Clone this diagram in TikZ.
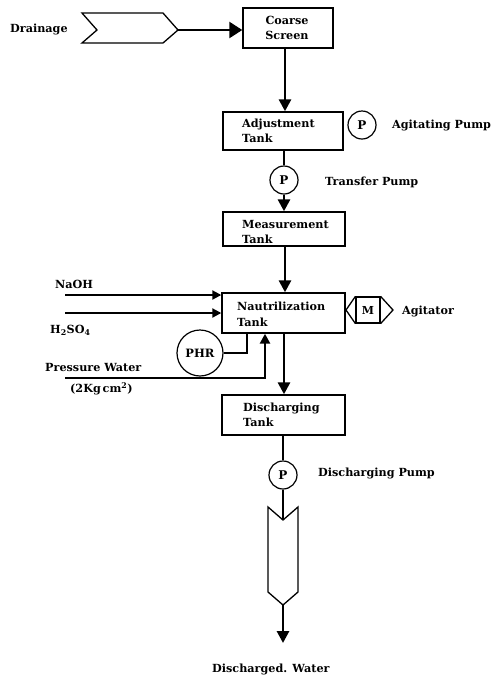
\documentclass[tikz,border=0pt]{standalone}
\usepackage{fontspec}
\setmainfont{DejaVu Serif}
\usetikzlibrary{arrows.meta}
\begin{document}
\begin{tikzpicture}[x=1pt,y=-1pt,
  lbl/.style={inner sep=0pt, align=left, font=\fontsize{11.2}{15.5}\selectfont\bfseries},
  tank/.style={draw, line width=1.4pt, inner sep=0pt},
  pump/.style={draw, circle, line width=1.2pt, minimum size=28pt, inner sep=0pt, font=\fontsize{12}{14}\selectfont\bfseries},
  mainflow/.style={line width=2.8pt, -{Triangle[length=12pt,width=12pt]}},
  plainflow/.style={line width=2.8pt},
  chemflow/.style={line width=2pt, -{Triangle[length=9pt,width=9pt]}},
  thinflow/.style={line width=1.2pt},
  outline/.style={line width=1.3pt, line join=miter}
]
\useasboundingbox (0,0) rectangle (495,681);

% Drainage inlet chevron
\node[lbl, anchor=west] (drainlbl) at (10,29) {Drainage};
\draw[outline] (82,13) -- (163,13) -- (178,30) -- (163,43) -- (82,43) -- (97,30) -- cycle;
\coordinate (drtip) at (178,30);

% Coarse screen
\node[tank, minimum width=90pt, minimum height=40pt] (coarse) at (288,28) {};
\node[lbl, align=center] (coarselbl) at (287,28) {Coarse\\Screen};
\draw[line width=2.5pt, -{Triangle[length=13pt,width=16pt]}] (drtip) -- (drtip -| coarse.west);

% Adjustment tank
\node[tank, minimum width=120pt, minimum height=38pt] (adj) at (283,131) {};
\node[lbl, anchor=west] (adjlbl) at (242,131) {Adjustment\\Tank};
\node[pump] (agp) at (362,125) {P};
\node[lbl, anchor=west] (agplbl) at (392,125) {Agitating Pump};

% Transfer pump
\node[pump] (trp) at (284,180) {P};
\node[lbl, anchor=west] (trplbl) at (325,182) {Transfer Pump};

% Measurement tank
\node[tank, minimum width=122pt, minimum height=34pt] (meas) at (284,229) {};
\node[lbl, anchor=west] (measlbl) at (242,232) {Measurement\\Tank};

% Nautrilization tank
\node[tank, minimum width=123pt, minimum height=40pt] (naut) at (283.5,313) {};
\node[lbl, anchor=west] (nautlbl) at (237,314.5) {Nautrilization\\Tank};

% Agitator
\node[draw, line width=1.2pt, minimum width=24pt, minimum height=26pt, inner sep=0pt, font=\fontsize{11}{13}\selectfont\bfseries] (mbox) at (368,310) {M};
\coordinate (mtipl) at (346,310);
\coordinate (mtipr) at (393,310);
\draw[outline] (mbox.north west) -- (mtipl) -- (mbox.south west);
\draw[outline] (mbox.north east) -- (mtipr) -- (mbox.south east);
\node[lbl, anchor=west] (agtlbl) at (402,311) {Agitator};

% Chemicals
\node[lbl, anchor=west] (naohlbl) at (55,284) {NaOH};
\coordinate (naohs) at (65,295);
\draw[chemflow] (naohs) -- (naohs -| naut.west);
\node[lbl, anchor=west] (h2so4lbl) at (50,330) {H\textsubscript{2}SO\textsubscript{4}};
\coordinate (h2so4s) at (65,313);
\draw[chemflow] (h2so4s) -- (h2so4s -| naut.west);

% PHR
\node[draw, circle, line width=1.2pt, minimum size=46pt, inner sep=0pt, font=\fontsize{11.5}{13}\selectfont\bfseries] (phr) at (200,353) {PHR};
\coordinate (phrc) at (247,353);
\draw[thinflow] (phr.east) -- (phrc) -- (phrc |- naut.south);

% Pressure water
\node[lbl, anchor=west] (pwlbl) at (45,367) {Pressure Water};
\node[lbl, anchor=west] (pwunit) at (70,389) {(2Kg\,cm\textsuperscript{2})};
\coordinate (pws) at (65,378);
\coordinate (pwc) at (265,378);
\draw[line width=2.5pt, -{Triangle[length=10pt,width=10pt]}] (pws) -- (pwc) -- (pwc |- naut.south);

% Discharging tank
\node[tank, minimum width=123pt, minimum height=40pt] (dis) at (283.5,415) {};
\node[lbl, anchor=west] (dislbl) at (243,415) {Discharging\\Tank};

% Discharging pump
\node[pump] (dip) at (283,475) {P};
\node[lbl, anchor=west] (diplbl) at (318,473) {Discharging Pump};

% Outlet chevron
\coordinate (outnotch) at (283,520);
\coordinate (outtip) at (283,605);
\draw[outline] (268,507) -- (outnotch) -- (298,507) -- (298,592) -- (outtip) -- (268,592) -- cycle;
\coordinate (outend) at (283,643);
\node[lbl, anchor=west] (outlbl) at (212,669) {Discharged. Water};

% Main flow
\draw[mainflow] (coarse.south -| 285,0) -- (adj.north -| 285,0);
\draw[plainflow] (adj.south -| trp) -- (trp.north);
\draw[mainflow] (trp.south) -- (meas.north -| trp);
\draw[mainflow] (meas.south -| 285,0) -- (naut.north -| 285,0);
\draw[mainflow] (naut.south -| 284,0) -- (dis.north -| 284,0);
\draw[plainflow] (dis.south -| dip) -- (dip.north);
\draw[plainflow] (dip.south) -- (outnotch);
\draw[mainflow] (outtip) -- (outend);
\end{tikzpicture}
\end{document}
